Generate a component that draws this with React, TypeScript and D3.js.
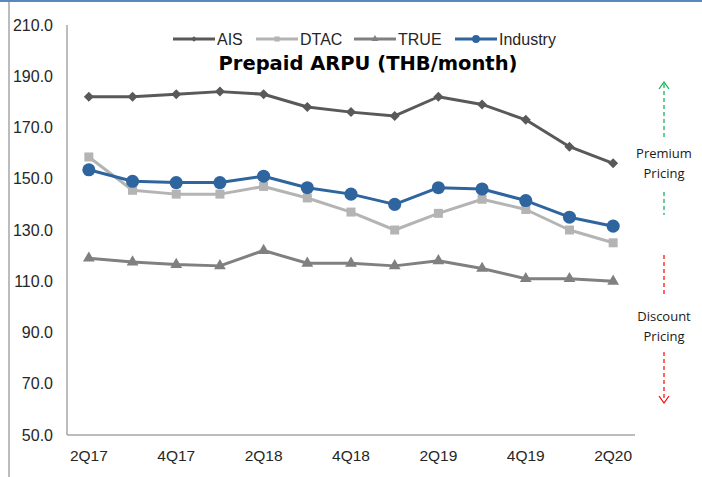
import * as d3 from 'd3'

const QUARTERS = ['2Q17', '3Q17', '4Q17', '1Q18', '2Q18', '3Q18', '4Q18', '1Q19', '2Q19', '3Q19', '4Q19', '1Q20', '2Q20']
const AIS = [182, 182, 183, 184, 183, 178, 176, 174.5, 182, 179, 173, 162.5, 156]
const DTAC = [158.5, 145.5, 144, 144, 147, 142.5, 137, 130, 136.5, 142, 138, 130, 125]
const TRUE = [119, 117.5, 116.5, 116, 122, 117, 117, 116, 118, 115, 111, 111, 110]
const INDUSTRY = [153.5, 149, 148.5, 148.5, 151, 146.5, 144, 140, 146.5, 146, 141.5, 135, 131.5]
const Y_TICKS = [50, 70, 90, 110, 130, 150, 170, 190, 210]

const SERIES = [
  { name: 'AIS', values: AIS, color: '#595959', symbol: d3.symbolSquare, size: 50, rotate: 45, legendSize: 16 },
  { name: 'DTAC', values: DTAC, color: '#b4b4b4', symbol: d3.symbolSquare, size: 81, rotate: 0, legendSize: 26 },
  { name: 'TRUE', values: TRUE, color: '#808080', symbol: d3.symbolTriangle, size: 60, rotate: 0, legendSize: 22 },
  { name: 'Industry', values: INDUSTRY, color: '#2f659f', symbol: d3.symbolCircle, size: 135, rotate: 0, legendSize: 48 },
]

const LEGEND_X = [173, 256, 354, 455]

const W = 702
const H = 477
const font = 'Arial, "Liberation Sans", sans-serif'

export default function App() {
  const x = d3.scaleBand().domain(QUARTERS).range([67, 635])
  const y = d3.scaleLinear().domain([50, 210]).range([435, 25])
  const cx = (q: string) => (x(q) ?? 0) + x.bandwidth() / 2

  const line = d3.line<number>()
    .x((_, i) => cx(QUARTERS[i]))
    .y(d => y(d))

  const arrowX = 664

  return (
    <div style={{ position: 'absolute', left: 0, top: 0 }}>
      <svg width={W} height={H} style={{ display: 'block', background: '#fff' }}>
        {/* frame */}
        <rect x={0} y={0} width={W} height={2} fill="#5a87c0" />
        <line x1={9} y1={2} x2={9} y2={H} stroke="#a6a6a6" strokeWidth={1.5} />

        {/* axes */}
        <line x1={67} y1={25} x2={67} y2={435} stroke="#a6a6a6" strokeWidth={1.5} />
        <line x1={67} y1={435} x2={635} y2={435} stroke="#a6a6a6" strokeWidth={1.5} />

        {Y_TICKS.map(t => (
          <text key={t} x={53} y={y(t)} dy="0.35em" textAnchor="end"
            fontFamily={font} fontSize={16} fill="#262626">
            {t.toFixed(1)}
          </text>
        ))}

        {QUARTERS.map((q, i) => i % 2 === 0 && (
          <text key={q} x={cx(q)} y={461} textAnchor="middle"
            fontFamily={font} fontSize={15.5} fill="#262626">
            {q}
          </text>
        ))}

        {/* series */}
        {SERIES.map(s => (
          <g key={s.name}>
            <path d={line(s.values) ?? ''} fill="none" stroke={s.color} strokeWidth={3} strokeLinejoin="round" />
            {s.values.map((v, i) => (
              <path key={i}
                d={d3.symbol().type(s.symbol).size(s.size)() ?? ''}
                transform={`translate(${cx(QUARTERS[i])},${y(v)}) rotate(${s.rotate})`}
                fill={s.color} />
            ))}
          </g>
        ))}

        {/* legend */}
        {SERIES.map((s, i) => (
          <g key={s.name} transform={`translate(${LEGEND_X[i]},39)`}>
            <line x1={0} y1={0} x2={42} y2={0} stroke={s.color} strokeWidth={3} />
            <path d={d3.symbol().type(s.symbol).size(s.legendSize)() ?? ''}
              transform={`translate(21,0) rotate(${s.rotate})`} fill={s.color} />
            <text x={44} y={0} dy="0.36em" fontFamily={font} fontSize={16} fill="#262626">{s.name}</text>
          </g>
        ))}

        <text x={368} y={70} textAnchor="middle" fontFamily='"DejaVu Sans", Verdana, sans-serif'
          fontWeight="bold" fontSize={19.5} fill="#000">
          Prepaid ARPU (THB/month)
        </text>

        {/* pricing annotations */}
        <g fontFamily='"Open Sans", "Noto Sans", sans-serif' fontSize={13} fill="#1a1a1a" textAnchor="middle">
          <line x1={arrowX} y1={84} x2={arrowX} y2={137} stroke="#00b050" strokeWidth={1.2} strokeDasharray="4,3" />
          <line x1={arrowX} y1={192} x2={arrowX} y2={215} stroke="#00b050" strokeWidth={1.2} strokeDasharray="4,3" />
          <path d={`M${arrowX - 5},${89} L${arrowX},${82} L${arrowX + 5},${89}`} fill="none" stroke="#00b050" strokeWidth={1.2} />
          <text x={arrowX} y={158}>Premium</text>
          <text x={arrowX} y={178}>Pricing</text>

          <line x1={arrowX} y1={255} x2={arrowX} y2={297} stroke="#ff0000" strokeWidth={1.2} strokeDasharray="4,3" />
          <line x1={arrowX} y1={352} x2={arrowX} y2={401} stroke="#ff0000" strokeWidth={1.2} strokeDasharray="4,3" />
          <path d={`M${arrowX - 5},${396} L${arrowX},${403} L${arrowX + 5},${396}`} fill="none" stroke="#ff0000" strokeWidth={1.2} />
          <text x={arrowX} y={321}>Discount</text>
          <text x={arrowX} y={341}>Pricing</text>
        </g>
      </svg>
    </div>
  )
}
